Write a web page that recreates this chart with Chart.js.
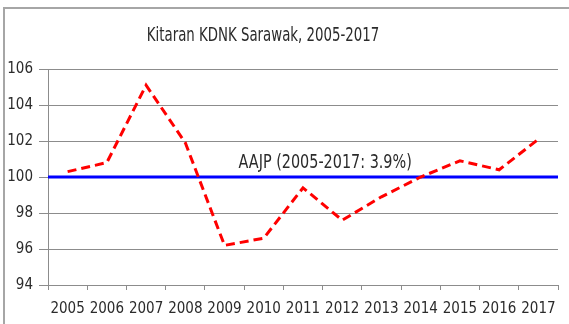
<!DOCTYPE html>
<html>
<head>
<meta charset="utf-8">
<title>Kitaran KDNK Sarawak</title>
<script src="https://cdn.jsdelivr.net/npm/chart.js@4.4.0/dist/chart.umd.min.js"></script>
<style>
  html, body { margin: 0; padding: 0; background: #fff; }
  #wrap { position: relative; width: 569px; height: 324px; overflow: hidden; }
  #frame { position: absolute; left: 3px; top: 7px; width: 620px; height: 400px;
           border: 2px solid #a6a6a6; box-sizing: border-box; }
  #chart { position: absolute; left: 0; top: 0; }
</style>
</head>
<body>
<div id="wrap">
  <div id="frame"></div>
  <canvas id="chart" width="569" height="324"></canvas>
</div>
<script>
// --- data ---
const years = ['2005', '2006', '2007', '2008', '2009', '2010', '2011',
               '2012', '2013', '2014', '2015', '2016', '2017'];
const kitaran = [100.3, 100.8, 105.1, 101.9, 96.2, 96.6, 99.4,
                 97.6, 98.9, 100.0, 100.9, 100.4, 102.1];
const yMin = 94;
const yMax = 106;
const yStep = 2;
const aajpLevel = 100;
const aajpText = 'AAJP (2005-2017: 3.9%)';
const titleText = 'Kitaran KDNK Sarawak, 2005-2017';

const FONT = '"DejaVu Sans Condensed", "DejaVu Sans", sans-serif';
const gridGrey = '#8c8c8c';
const textCol = '#2b2b2b';

// narrow text: squeeze horizontally around its anchor point
function narrowText(ctx, text, x, y, size, squeeze, align) {
  ctx.save();
  ctx.translate(x, y);
  ctx.scale(squeeze, 1);
  ctx.font = size + 'px ' + FONT;
  ctx.textAlign = align;
  ctx.textBaseline = 'middle';
  ctx.fillStyle = textCol;
  ctx.fillText(text, 0, 0);
  ctx.restore();
}

// blue trend line across the whole plot, plus its label and the title
const aajpPlugin = {
  id: 'aajp',
  beforeDatasetsDraw(chart) {
    const { ctx, chartArea, scales } = chart;
    const y = scales.y.getPixelForValue(aajpLevel);
    ctx.save();
    ctx.strokeStyle = '#0000ff';
    ctx.lineWidth = 3;
    ctx.beginPath();
    ctx.moveTo(chartArea.left, y);
    ctx.lineTo(chartArea.right, y);
    ctx.stroke();
    ctx.restore();
  },
  afterDatasetsDraw(chart) {
    const { ctx, scales } = chart;
    const y = scales.y.getPixelForValue(aajpLevel);
    const x = scales.x.getPixelForValue(4) + 14;
    narrowText(ctx, aajpText, x, y - 14, 20, 0.8, 'left');
    narrowText(ctx, titleText, 263, 36, 19, 0.78, 'center');
  }
};

new Chart(document.getElementById('chart').getContext('2d'), {
  type: 'line',
  data: {
    labels: years,
    datasets: [{
      label: 'Kitaran',
      data: kitaran,
      borderColor: '#ff0000',
      borderWidth: 3,
      borderDash: [9, 5],
      pointRadius: 0,
      tension: 0,
      fill: false
    }]
  },
  options: {
    responsive: false,
    animation: false,
    devicePixelRatio: 1,
    layout: { padding: { top: 69, right: 11, bottom: 0, left: 0 } },
    plugins: {
      legend: { display: false },
      tooltip: { enabled: false }
    },
    scales: {
      x: {
        offset: true,
        grid: { drawOnChartArea: false, offset: true, tickLength: 5, color: gridGrey },
        border: { color: gridGrey },
        ticks: { color: textCol, font: { family: FONT, size: 15 }, padding: 10,
                 maxRotation: 0, autoSkip: false },
        afterFit(s) { s.height = 39; }
      },
      y: {
        min: yMin,
        max: yMax,
        grid: { color: gridGrey, tickLength: 9 },
        border: { color: gridGrey },
        ticks: { stepSize: yStep, color: textCol, font: { family: FONT, size: 15 }, padding: 6 },
        afterFit(s) { s.width = 48; }
      }
    }
  },
  plugins: [aajpPlugin]
});
</script>
</body>
</html>
